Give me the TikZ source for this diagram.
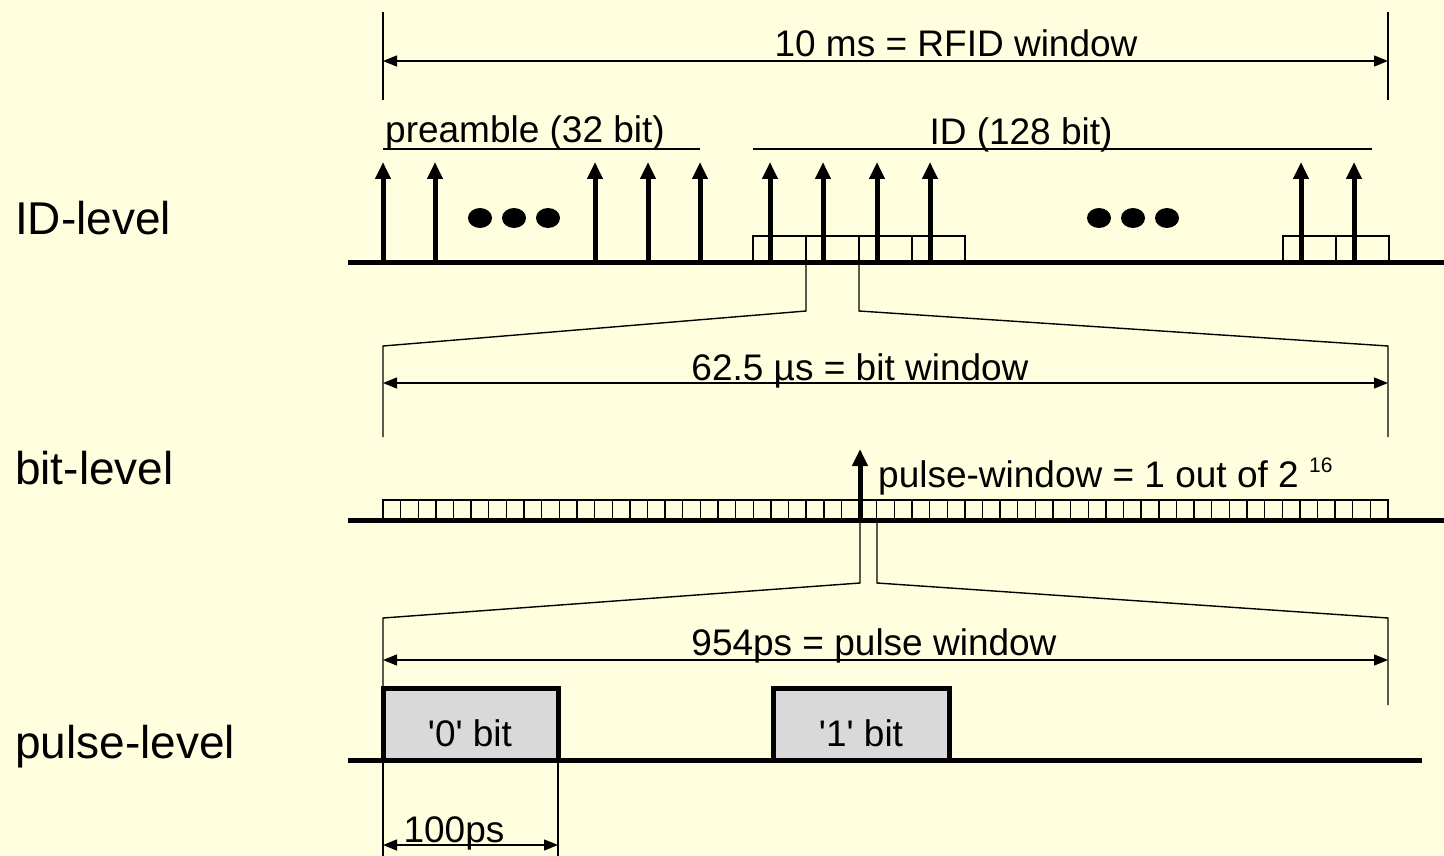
\documentclass[tikz,border=0pt]{standalone}
\usepackage{fontspec}
\setmainfont{Liberation Sans}[Ligatures=TeXOff]
\usetikzlibrary{arrows.meta}
\definecolor{bg}{RGB}{255,255,224}
\definecolor{pulsegray}{RGB}{217,217,217}
\begin{document}
\begin{tikzpicture}[x=1pt,y=-1pt,
  base/.style={line width=5pt},
  spike/.style={line width=5pt,-{Triangle[length=17pt,width=15pt]}},
  dimarrow/.style={line width=1.4pt,{Triangle[length=14pt,width=11pt]}-{Triangle[length=14pt,width=11pt]}},
  thinline/.style={line width=1.4pt},
  cell/.style={draw,line width=1.4pt},
  pbox/.style={draw,line width=5pt,fill=pulsegray},
  lvl/.style={font=\fontsize{46}{50}\selectfont,anchor=base west,inner sep=0pt},
  ann/.style={font=\fontsize{37}{40}\selectfont,inner sep=0pt},
  dotmark/.style={fill=black}
]
\fill[bg] (0,0) rectangle (1444,856);
\useasboundingbox (0,0) rectangle (1444,856);

% level labels
\node[lvl] (lid) at (15,234) {ID-level};
\node[lvl] (lbit) at (15,484) {bit-level};
\node[lvl] (lpulse) at (15,758) {pulse-level};

% ---------------- ID level ----------------
\coordinate (w1a) at (383,12);  \coordinate (w1b) at (383,100);
\coordinate (w1c) at (1388,12); \coordinate (w1d) at (1388,100);
\draw[thinline] (w1a) -- (w1b);
\draw[thinline] (w1c) -- (w1d);
\coordinate (d1a) at (383,61); \coordinate (d1b) at (1388,61);
\draw[dimarrow] (d1a) -- (d1b);
\node[ann,anchor=base] (t10) at (956,57) {10 ms = RFID window};

\node[ann,anchor=base west] (tpre) at (385,143) {preamble (32 bit)};
\coordinate (pl1) at (383,149); \coordinate (pl2) at (700,149);
\draw[thinline] (pl1) -- (pl2);
\node[ann,anchor=base] (tid) at (1021,145) {ID (128 bit)};
\coordinate (il1) at (753,149); \coordinate (il2) at (1372,149);
\draw[thinline] (il1) -- (il2);

% bit boxes
\foreach \x [count=\i] in {753,806,859,912,1283,1336}{
  \draw[cell] (\x,236) rectangle ++(53,26);
}
\coordinate (b1s) at (348,262); \coordinate (b1e) at (1444,262);
\draw[base] (b1s) -- (b1e);
\foreach \x [count=\i] in {383,435,595,648,700,770,823,877,930,1301,1354}{
  \coordinate (sb\i) at (\x,262);
  \coordinate (st\i) at (\x,162);
  \draw[spike] (sb\i) -- (st\i);
}
\foreach \x in {480,514,548,1099,1133,1167}{
  \fill[dotmark] (\x,218) ellipse [x radius=12pt, y radius=10pt];
}

% zoom lines ID -> bit
\coordinate (z1a) at (806,262); \coordinate (z1b) at (806,311);
\coordinate (z1c) at (383,346); \coordinate (z1d) at (383,437);
\draw[thinline] (z1a) -- (z1b) -- (z1c) -- (z1d);
\coordinate (z2a) at (859,262); \coordinate (z2b) at (859,311);
\coordinate (z2c) at (1388,346); \coordinate (z2d) at (1388,437);
\draw[thinline] (z2a) -- (z2b) -- (z2c) -- (z2d);

% ---------------- bit level ----------------
\coordinate (d2a) at (383,383); \coordinate (d2b) at (1388,383);
\draw[dimarrow] (d2a) -- (d2b);
\node[ann,anchor=base] (t62) at (860,380) {62.5 µs = bit window};

\foreach \i in {0,...,56}{
  \draw[cell] ({383+\i*17.632},500) rectangle ++(17.632,20);
}
\coordinate (b2s) at (348,520); \coordinate (b2e) at (1444,520);
\draw[base] (b2s) -- (b2e);
\coordinate (pwb) at (860,520); \coordinate (pwt) at (860,449);
\draw[spike] (pwb) -- (pwt);
\node[ann,anchor=base west] (tpw) at (878,487) {pulse-window = 1 out of 2 \raisebox{15pt}{\fontsize{21}{23}\selectfont 16}};

% zoom lines bit -> pulse
\coordinate (z3a) at (860,520); \coordinate (z3b) at (860,583);
\coordinate (z3c) at (383,618); \coordinate (z3d) at (383,688);
\draw[thinline] (z3a) -- (z3b) -- (z3c) -- (z3d);
\coordinate (z4a) at (877,520); \coordinate (z4b) at (877,583);
\coordinate (z4c) at (1388,618); \coordinate (z4d) at (1388,705);
\draw[thinline] (z4a) -- (z4b) -- (z4c) -- (z4d);

% ---------------- pulse level ----------------
\coordinate (d3a) at (383,660); \coordinate (d3b) at (1388,660);
\draw[dimarrow] (d3a) -- (d3b);
\node[ann,anchor=base] (t954) at (874,655) {954ps = pulse window};

\draw[pbox] (383,760) -- (383,688) -- (558,688) -- (558,760);
\draw[pbox] (773,760) -- (773,688) -- (949,688) -- (949,760);
\node[ann,anchor=base] (t0) at (470,746) {'0' bit};
\node[ann,anchor=base] (t1) at (861,746) {'1' bit};

\coordinate (b3s) at (348,760); \coordinate (b3e) at (1422,760);
\draw[base] (b3s) -- (b3e);

\coordinate (v1a) at (383,760); \coordinate (v1b) at (383,856);
\coordinate (v2a) at (558,760); \coordinate (v2b) at (558,856);
\draw[thinline] (v1a) -- (v1b);
\draw[thinline] (v2a) -- (v2b);
\coordinate (d4a) at (383,845); \coordinate (d4b) at (558,845);
\draw[dimarrow] (d4a) -- (d4b);
\node[ann,anchor=base] (t100) at (454,842) {100ps};
\end{tikzpicture}
\end{document}
